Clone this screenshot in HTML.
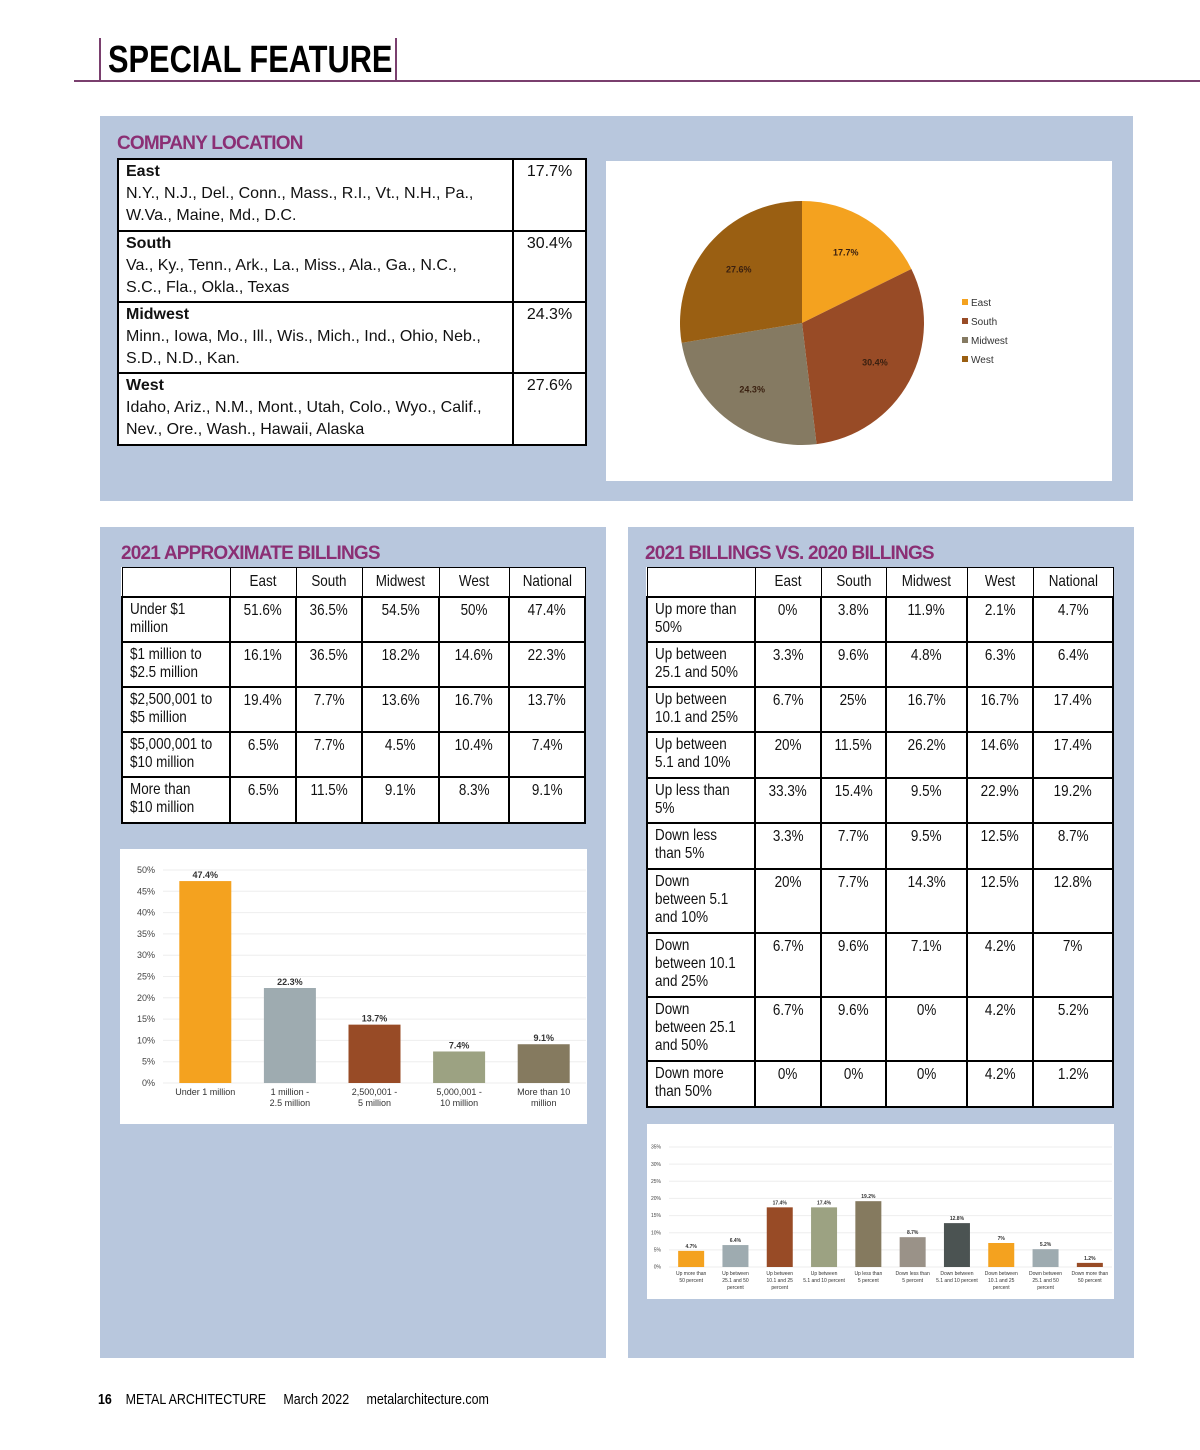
<!DOCTYPE html>
<html><head><meta charset="utf-8">
<style>
body{margin:0;width:1200px;height:1450px;background:#fff;position:relative;overflow:hidden;font-family:"Liberation Sans",sans-serif;}
.abs{position:absolute;}
.panel{position:absolute;background:#b8c7dd;}
.h2{position:absolute;color:#8b2f74;font-weight:bold;font-size:19px;letter-spacing:-0.8px;}
.white{position:absolute;background:#fff;}
table{border-collapse:collapse;position:absolute;table-layout:fixed;background:#fff;}
td{border:2px solid #000;padding:0;vertical-align:top;font-size:16px;line-height:18px;color:#111;overflow:hidden;}
td.v{text-align:center;padding-top:4px;}
td.l{padding:3px 0 0 7px;}
tr.hd td{border-width:1px 1px 2px 1px;text-align:center;vertical-align:middle;}
.sq{display:inline-block;transform:scaleX(.84);transform-origin:left top;white-space:nowrap;}
td.v .sq, tr.hd .sq{transform-origin:center top;}
.loc td.l{line-height:22px;padding-top:1px;}
.loc td.v{line-height:22px;padding-top:1px;}
</style></head><body>
<div class="abs" style="left:74px;top:80px;width:1126px;height:2px;background:#7a3f6e"></div>
<div class="abs" style="left:99px;top:38px;width:2px;height:43px;background:#7a3f6e"></div>
<div class="abs" style="left:395px;top:38px;width:2px;height:43px;background:#7a3f6e"></div>
<div class="abs" style="left:108px;top:38px;font-size:38px;font-weight:bold;line-height:44px;color:#000;white-space:nowrap;transform:scaleX(0.81);transform-origin:left">SPECIAL FEATURE</div>

<div class="panel" style="left:100px;top:116px;width:1033px;height:385px"></div>
<div class="h2" style="left:117px;top:133px">COMPANY LOCATION</div>
<table class="loc" style="left:117px;top:158px;width:468px">
<colgroup><col style="width:395px"><col style="width:73px"></colgroup>
<tr style="height:72px"><td class="l"><b>East</b><br>N.Y., N.J., Del., Conn., Mass., R.I., Vt., N.H., Pa.,<br>W.Va., Maine, Md., D.C.</td><td class="v">17.7%</td></tr>
<tr style="height:71px"><td class="l"><b>South</b><br>Va., Ky., Tenn., Ark., La., Miss., Ala., Ga., N.C.,<br>S.C., Fla., Okla., Texas</td><td class="v">30.4%</td></tr>
<tr style="height:71px"><td class="l"><b>Midwest</b><br>Minn., Iowa, Mo., Ill., Wis., Mich., Ind., Ohio, Neb.,<br>S.D., N.D., Kan.</td><td class="v">24.3%</td></tr>
<tr style="height:72px"><td class="l"><b>West</b><br>Idaho, Ariz., N.M., Mont., Utah, Colo., Wyo., Calif.,<br>Nev., Ore., Wash., Hawaii, Alaska</td><td class="v">27.6%</td></tr>
</table>
<div class="white" style="left:606px;top:161px;width:506px;height:320px"></div>
<svg class="abs" id="pie" style="left:606px;top:161px" width="506" height="320"></svg>

<div class="panel" style="left:100px;top:527px;width:506px;height:831px"></div>
<div class="h2" style="left:121px;top:543px">2021 APPROXIMATE BILLINGS</div>
<table id="t1" style="left:121px;top:567px;width:463px"></table>
<div class="white" style="left:120px;top:849px;width:467px;height:275px"></div>
<svg class="abs" id="bar1" style="left:120px;top:849px" width="467" height="275"></svg>

<div class="panel" style="left:628px;top:527px;width:506px;height:831px"></div>
<div class="h2" style="left:645px;top:543px">2021 BILLINGS VS. 2020 BILLINGS</div>
<table id="t2" style="left:646px;top:567px;width:466px"></table>
<div class="white" style="left:647px;top:1124px;width:467px;height:175px"></div>
<svg class="abs" id="bar2" style="left:647px;top:1124px" width="467" height="175"></svg>

<div class="abs" style="left:98px;top:1391px;font-size:15px;color:#000;white-space:pre;transform:scaleX(0.83);transform-origin:left"><b>16</b>    METAL ARCHITECTURE     March 2022     metalarchitecture.com</div>

<script>
const NS="http://www.w3.org/2000/svg";
function mk(p,t,a){const e=document.createElementNS(NS,t);for(const k in a)e.setAttribute(k,a[k]);p.appendChild(e);return e;}

// ---- pie data
const pieLabels=["East","South","Midwest","West"];
const pieValues=[17.7,30.4,24.3,27.6];
const pieColors=["#f4a21f","#984b26","#857a62","#9a5f12"];
const pie=document.getElementById('pie');
const cx=196,cy=162,r=122;
let ang=0;const tot=pieValues.reduce((a,b)=>a+b,0);
pieValues.forEach((v,i)=>{
 const a0=ang,a1=ang+v/tot*2*Math.PI;ang=a1;
 const x0=cx+r*Math.sin(a0),y0=cy-r*Math.cos(a0),x1=cx+r*Math.sin(a1),y1=cy-r*Math.cos(a1);
 const s=mk(pie,'path',{d:`M${cx},${cy}L${x0},${y0}A${r},${r} 0 ${a1-a0>Math.PI?1:0} 1 ${x1},${y1}Z`,fill:pieColors[i]});
 
 
 const am=(a0+a1)/2,lr=r*0.68;
 const t=mk(pie,'text',{x:cx+lr*Math.sin(am),y:cy-lr*Math.cos(am)+3,'text-anchor':'middle','font-size':9,'font-weight':'bold',fill:'#3a2010'});
 t.textContent=v+'%';
 
 
 const sw=mk(pie,'rect',{x:356,y:138+i*19,width:6,height:6,fill:pieColors[i]});
 
 
 const lt=mk(pie,'text',{x:365,y:145+i*19,'font-size':10,fill:'#333'});
 lt.textContent=pieLabels[i];
 
 
});

// ---- tables
function buildTable(id,cols,heights,head,rows){
 const t=document.getElementById(id);
 const cg=document.createElement('colgroup');cols.forEach(w=>{const c=document.createElement('col');c.style.width=w+'px';cg.appendChild(c);});t.appendChild(cg);
 const hr=document.createElement('tr');hr.className='hd';hr.style.height=heights[0]+'px';
 head.forEach(h=>{const d=document.createElement('td');d.innerHTML='<span class="sq">'+h+'</span>';hr.appendChild(d);});
 
 
 t.appendChild(hr);
 rows.forEach((r,i)=>{const tr=document.createElement('tr');tr.style.height=heights[i+1]+'px';
  r.forEach((c,j)=>{const d=document.createElement('td');d.className=j?'v':'l';d.innerHTML='<span class="sq">'+c+'</span>';tr.appendChild(d);});
  
  
  t.appendChild(tr);});
}
buildTable('t1',[108,66,66,77,70,76],[29,45,45,45,45,46],["","East","South","Midwest","West","National"],[
 ["Under $1<br>million","51.6%","36.5%","54.5%","50%","47.4%"],
 ["$1 million to<br>$2.5 million","16.1%","36.5%","18.2%","14.6%","22.3%"],
 ["$2,500,001 to<br>$5 million","19.4%","7.7%","13.6%","16.7%","13.7%"],
 ["$5,000,001 to<br>$10 million","6.5%","7.7%","4.5%","10.4%","7.4%"],
 ["More than<br>$10 million","6.5%","11.5%","9.1%","8.3%","9.1%"]]);
buildTable('t2',[108,66,65,81,66,80],[29,45,45,45,46,45,46,64,64,64,46],["","East","South","Midwest","West","National"],[
 ["Up more than<br>50%","0%","3.8%","11.9%","2.1%","4.7%"],
 ["Up between<br>25.1 and 50%","3.3%","9.6%","4.8%","6.3%","6.4%"],
 ["Up between<br>10.1 and 25%","6.7%","25%","16.7%","16.7%","17.4%"],
 ["Up between<br>5.1 and 10%","20%","11.5%","26.2%","14.6%","17.4%"],
 ["Up less than<br>5%","33.3%","15.4%","9.5%","22.9%","19.2%"],
 ["Down less<br>than 5%","3.3%","7.7%","9.5%","12.5%","8.7%"],
 ["Down<br>between 5.1<br>and 10%","20%","7.7%","14.3%","12.5%","12.8%"],
 ["Down<br>between 10.1<br>and 25%","6.7%","9.6%","7.1%","4.2%","7%"],
 ["Down<br>between 25.1<br>and 50%","6.7%","9.6%","0%","4.2%","5.2%"],
 ["Down more<br>than 50%","0%","0%","0%","4.2%","1.2%"]]);

// ---- bar chart 1
const b1Cats=[["Under 1 million"],["1 million -","2.5 million"],["2,500,001 -","5 million"],["5,000,001 -","10 million"],["More than 10","million"]];
const b1Vals=[47.4,22.3,13.7,7.4,9.1];
const b1Ticks=[0,5,10,15,20,25,30,35,40,45,50];
const b1Colors=["#f4a21f","#9eabb0","#984b26","#9ca282","#857a5f"];
// ---- bar chart 2
const b2Cats=[["Up more than","50 percent"],["Up between","25.1 and 50","percent"],["Up between","10.1 and 25","percent"],["Up between","5.1 and 10 percent"],["Up less than","5 percent"],["Down less than","5 percent"],["Down between","5.1 and 10 percent"],["Down between","10.1 and 25","percent"],["Down between","25.1 and 50","percent"],["Down more than","50 percent"]];
const b2Vals=[4.7,6.4,17.4,17.4,19.2,8.7,12.8,7,5.2,1.2];
const b2Ticks=[0,5,10,15,20,25,30,35];
const b2Colors=["#f4a21f","#9eabb0","#984b26","#9ca282","#857a5f","#9a9288","#4b5352","#f4a21f","#9eabb0","#984b26"];

function barChart(id,cats,vals,ticks,colors,o){
 const s=document.getElementById(id);
 const y=v=>o.y0-(v-ticks[0])/(ticks[ticks.length-1]-ticks[0])*(o.y0-o.y1);
 const step=(o.x1-o.x0)/cats.length;
 ticks.forEach(t=>{
  const l=mk(s,'line',{x1:o.x0,x2:o.x1,y1:y(t),y2:y(t),stroke:'#eee','stroke-width':1});
  
  
  const tx=mk(s,'text',{x:o.x0-8,y:y(t)+o.fs/3,'text-anchor':'end','font-size':o.fs,fill:'#444'});
  tx.textContent=t+'%';
  
  
 });
 vals.forEach((v,i)=>{
  const cxx=o.x0+step*(i+0.5);
  const b=mk(s,'rect',{x:cxx-o.bw/2,y:y(v),width:o.bw,height:y(0)-y(v),fill:colors[i]});
  
  
  const vl=mk(s,'text',{x:cxx,y:y(v)-3,'text-anchor':'middle','font-size':o.fs,'font-weight':'bold',fill:'#333'});
  vl.textContent=v+'%';
  
  
  cats[i].forEach((c,k)=>{
   const cl=mk(s,'text',{x:cxx,y:y(0)+o.fs+3+k*(o.fs+2),'text-anchor':'middle','font-size':o.fs,fill:'#333'});
   cl.textContent=c;
   
   
  });
 });
}
barChart('bar1',b1Cats,b1Vals,b1Ticks,b1Colors,{x0:43,x1:466,y0:234,y1:21,bw:52,fs:9});
barChart('bar2',b2Cats,b2Vals,b2Ticks,b2Colors,{x0:22,x1:465,y0:143,y1:23,bw:26,fs:5});
</script>
</body></html>
